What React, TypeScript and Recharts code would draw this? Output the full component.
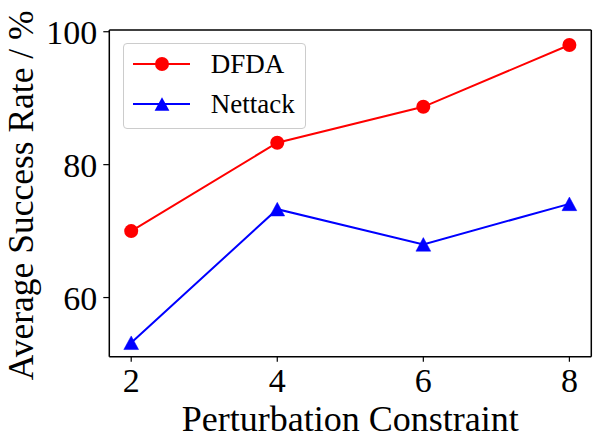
import React from 'react';
import { LineChart, Line, XAxis, YAxis, Legend, ReferenceLine } from 'recharts';

const constraints = [2, 4, 6, 8];
const dfda = [70.0, 83.3, 88.7, 98.0];
const nettack = [53.2, 73.3, 68.0, 74.1];
const xTicks = [2, 4, 6, 8];
const yTicks = [60, 80, 100];
const seriesNames = ['DFDA', 'Nettack'];
const xDomain = [1.7, 8.3];
const yDomain = [51.1, 100.26];

const data = constraints.map((c, i) => ({ c, DFDA: dfda[i], Nettack: nettack[i] }));

const FONT = '"Liberation Serif", "Times New Roman", serif';

const Triangle = (props: any) => {
  const { cx, cy, fill } = props;
  if (cx == null || cy == null) return null;
  const h = 6.8;
  const w = 7.4;
  return <polygon points={`${cx},${cy - h} ${cx - w},${cy + h} ${cx + w},${cy + h}`} fill={fill} stroke={fill} strokeWidth={0.5} />;
};

const LegendBox = () => (
  <div
    style={{
      width: 183,
      height: 86,
      border: '1.3px solid #cccccc',
      borderRadius: 4,
      background: 'rgba(255,255,255,0.8)',
      boxSizing: 'border-box',
      position: 'relative',
      fontFamily: FONT,
      fontSize: 27,
    }}
  >
    {[
      { name: seriesNames[0], color: '#ff0000', shape: 'circle' },
      { name: seriesNames[1], color: '#0000ff', shape: 'triangle' },
    ].map((s, i) => (
      <div key={s.name} style={{ position: 'absolute', left: 0, top: i * 39.4, height: 40, width: '100%' }}>
        <svg width={80} height={40} style={{ position: 'absolute', left: 0, top: 0 }}>
          <line x1={9} y1={20} x2={66} y2={20} stroke={s.color} strokeWidth={2} />
          {s.shape === 'circle' ? (
            <circle cx={38} cy={20} r={7} fill={s.color} />
          ) : (
            <polygon points={`38,${20 - 6.8} ${38 - 7.4},${20 + 6.8} ${38 + 7.4},${20 + 6.8}`} fill={s.color} />
          )}
        </svg>
        <span style={{ position: 'absolute', left: 87, top: 0, lineHeight: '40px', color: '#000' }}>{s.name}</span>
      </div>
    ))}
  </div>
);

export default function App() {
  return (
    <div style={{ position: 'absolute', left: 0, top: 0, width: 600, height: 438, background: '#fff', fontFamily: FONT }}>
      <LineChart width={600} height={438} data={data} margin={{ top: 30, right: 8.7, left: 0, bottom: 0 }}>
        <XAxis
          dataKey="c"
          type="number"
          domain={xDomain}
          ticks={xTicks}
          allowDataOverflow
          height={81.3}
          tickSize={5}
          tickMargin={6}
          axisLine={{ stroke: '#000', strokeWidth: 1.5 }}
          tickLine={{ stroke: '#000', strokeWidth: 1.2 }}
          tick={{ fill: '#000', fontSize: 34, fontFamily: FONT }}
          label={{
            content: (p: any) => {
              const vb = p.viewBox;
              return (
                <text x={vb.x + vb.width / 2} y={vb.y + 74.5} textAnchor="middle" fontFamily={FONT} fontSize={36} fill="#000">
                  Perturbation Constraint
                </text>
              );
            },
          }}
        />
        <YAxis
          type="number"
          domain={yDomain}
          ticks={yTicks}
          allowDataOverflow
          width={109.3}
          tickSize={6}
          tickMargin={6}
          axisLine={{ stroke: '#000', strokeWidth: 1.5 }}
          tickLine={{ stroke: '#000', strokeWidth: 1.2 }}
          tick={{ fill: '#000', fontSize: 34, fontFamily: FONT }}
          label={{
            content: (p: any) => {
              const vb = p.viewBox;
              const cy = vb.y + vb.height / 2 + 2;
              return (
                <text transform={`translate(${vb.x + 33},${cy}) rotate(-90)`} textAnchor="middle" fontFamily={FONT} fontSize={35.5} fill="#000">
                  Average Success Rate / %
                </text>
              );
            },
          }}
        />
        <ReferenceLine y={yDomain[1]} stroke="#000" strokeWidth={1.5} />
        <ReferenceLine x={xDomain[1]} stroke="#000" strokeWidth={1.5} />
        <Legend
          content={() => <LegendBox />}
          layout="vertical"
          align="center"
          verticalAlign="middle"
          wrapperStyle={{ position: 'absolute', left: 122.7, top: 43.3, width: 183, height: 86 }}
        />
        <Line
          dataKey="DFDA"
          stroke="#ff0000"
          strokeWidth={2}
          isAnimationActive={false}
          dot={{ r: 7, fill: '#ff0000', stroke: '#ff0000', strokeWidth: 0 }}
          activeDot={false}
        />
        <Line
          dataKey="Nettack"
          stroke="#0000ff"
          strokeWidth={2}
          isAnimationActive={false}
          dot={(p: any) => <Triangle key={p.index} {...p} fill="#0000ff" />}
          activeDot={false}
        />
      </LineChart>
    </div>
  );
}
